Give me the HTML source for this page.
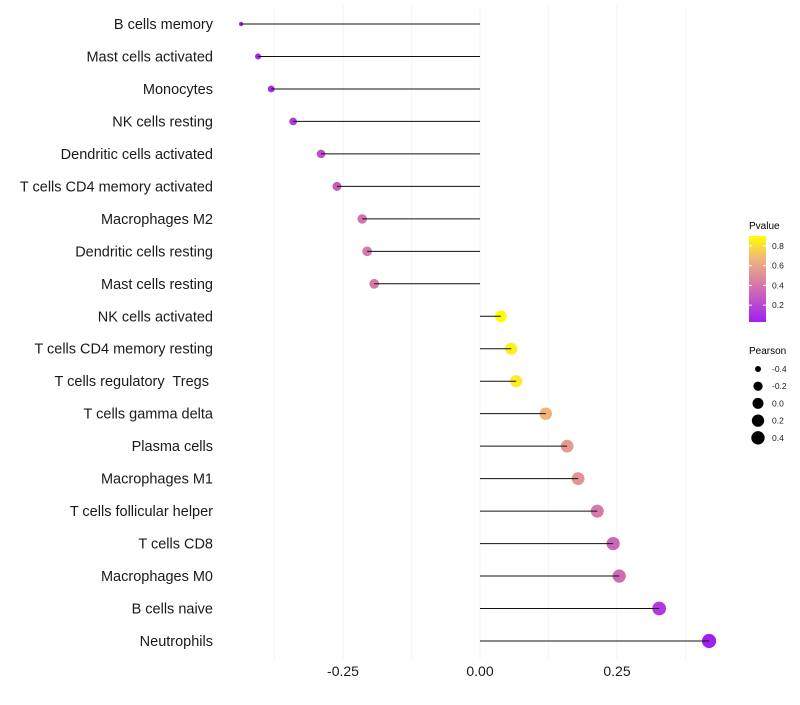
<!DOCTYPE html>
<html><head><meta charset="utf-8"><style>
body{margin:0;background:#fff;font-family:"Liberation Sans",sans-serif}
</style></head><body>
<svg id="chart" width="800" height="700" xmlns="http://www.w3.org/2000/svg" font-family="Liberation Sans, sans-serif">
<defs><linearGradient id="pg" x1="0" y1="1" x2="0" y2="0">
<stop offset="0" stop-color="#a020f0"/><stop offset="0.45" stop-color="#d87aa8"/><stop offset="0.75" stop-color="#f2b878"/><stop offset="1" stop-color="#ffff00"/></linearGradient></defs>
<g id="grid"></g>
<g id="dots"></g>
<g id="marks"></g>
<g id="labels"></g>
<g id="xticks"></g>
<g>
<text x="749" y="229" font-size="10">Pvalue</text>
<rect x="749" y="236" width="17" height="86" fill="url(#pg)"/>
<g id="cbticks"></g>
</g>
<g id="sizeleg">
<text x="749" y="354" font-size="10">Pearson</text>
</g>
</svg>
<script>
const categories=["B cells memory","Mast cells activated","Monocytes","NK cells resting","Dendritic cells activated","T cells CD4 memory activated","Macrophages M2","Dendritic cells resting","Mast cells resting","NK cells activated","T cells CD4 memory resting","T cells regulatory  Tregs ","T cells gamma delta","Plasma cells","Macrophages M1","T cells follicular helper","T cells CD8","Macrophages M0","B cells naive","Neutrophils"];
const pearson=[-0.436,-0.405,-0.381,-0.341,-0.290,-0.261,-0.215,-0.206,-0.193,0.038,0.057,0.066,0.120,0.159,0.179,0.214,0.243,0.254,0.327,0.418];
const pvalue=[0.03,0.06,0.08,0.15,0.25,0.30,0.42,0.44,0.45,0.90,0.86,0.84,0.68,0.58,0.55,0.45,0.35,0.38,0.15,0.03];
const xTicks=[-0.25,0,0.25];
const xTickLabels=["-0.25","0.00","0.25"];
const cbTicks=[0.2,0.4,0.6,0.8];
const sizeTicks=[-0.4,-0.2,0.0,0.2,0.4];
const sizeTickLabels=["-0.4","-0.2","0.0","0.2","0.4"];
const NS="http://www.w3.org/2000/svg";
const x=v=>480+v*548;
const y=i=>24+i*(641-24)/(categories.length-1);
const r=v=>1.5+5.6*Math.pow(Math.max(0,(v+0.44)/0.86),0.4);
const stops=[[0.03,[160,32,240]],[0.45,[216,122,168]],[0.7,[242,184,120]],[0.9,[255,255,0]]];
function col(p){p=Math.max(0.03,Math.min(0.9,p));for(let k=0;k<stops.length-1;k++){const[a,ca]=stops[k],[b,cb]=stops[k+1];if(p<=b){const t=(p-a)/(b-a);return`rgb(${ca.map((c,j)=>Math.round(c+(cb[j]-c)*t)).join(",")})`;}}return"rgb(255,255,0)";}
function mk(tag,at,parent){const e=document.createElementNS(NS,tag);for(const k in at)e.setAttribute(k,at[k]);parent.appendChild(e);return e;}
const grid=document.getElementById("grid");
for(let k=-3;k<=3;k++){const v=k*0.125;const g=mk("line",{x1:x(v),x2:x(v),y1:5,y2:660,stroke:"#f3f3f3","stroke-width":k%2===0?1:0.7},grid);

}
const marks=document.getElementById("marks"),dots=document.getElementById("dots"),labels=document.getElementById("labels");
categories.forEach((c,i)=>{
const d=mk("circle",{cx:x(pearson[i]),cy:y(i),r:r(pearson[i]),fill:col(pvalue[i])},dots);


const l=mk("line",{x1:x(0),x2:x(pearson[i]),y1:y(i),y2:y(i),stroke:"#111","stroke-width":1},marks);


const t=mk("text",{x:213,y:y(i)+5,"text-anchor":"end","font-size":14.5,fill:"#1a1a1a"},labels);
t.setAttribute("style","white-space:pre");
t.textContent=c;


});
const xt=document.getElementById("xticks");
xTicks.forEach((v,i)=>{const t=mk("text",{x:x(v),y:676,"text-anchor":"middle","font-size":14,fill:"#1a1a1a"},xt);t.textContent=xTickLabels[i];

});
const cb=document.getElementById("cbticks");
cbTicks.forEach(p=>{const yy=322-(p-0.03)/(0.9-0.03)*86;
const t=mk("text",{x:772,y:yy+3,"font-size":8.5,fill:"#1a1a1a"},cb);t.textContent=p.toFixed(1);


mk("line",{x1:749,x2:752,y1:yy,y2:yy,stroke:"#fff"},cb);mk("line",{x1:763,x2:766,y1:yy,y2:yy,stroke:"#fff"},cb);});
const sl=document.getElementById("sizeleg");
sizeTicks.forEach((v,i)=>{const yy=369+i*17.2;
const c=mk("circle",{cx:758,cy:yy,r:Math.max(2.5,r(v)*0.95),fill:"#000"},sl);


const t=mk("text",{x:772,y:yy+3,"font-size":8.5,fill:"#1a1a1a"},sl);t.textContent=sizeTickLabels[i];

});
</script>
</body></html>
